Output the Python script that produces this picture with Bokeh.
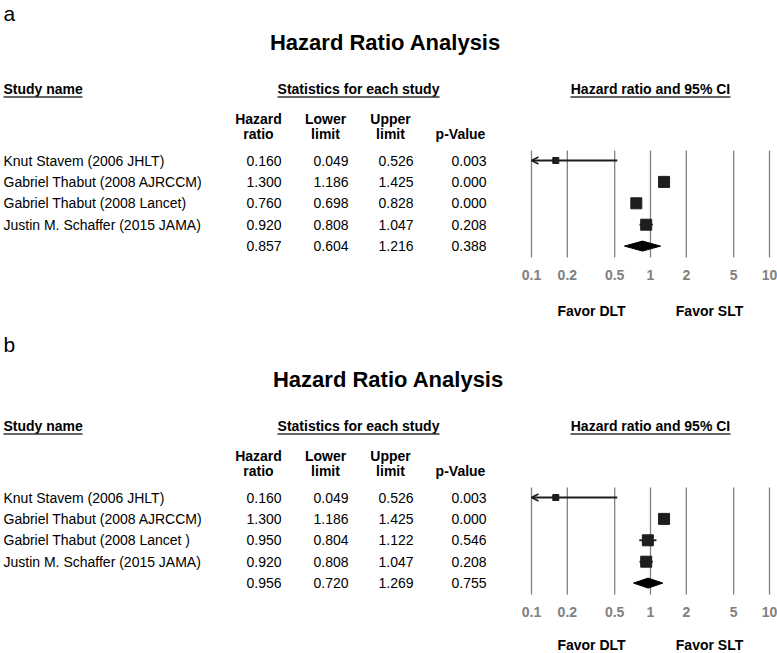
import math
from bokeh.plotting import figure
from bokeh.models import Range1d, LogScale, ColumnDataSource, Arrow, OpenHead
from bokeh.core.properties import value
from bokeh.embed import file_html
from bokeh.resources import INLINE

# ---------------- data ----------------
panel_letters = ["a", "b"]
chart_title = "Hazard Ratio Analysis"

studies_a = ["Knut Stavem (2006 JHLT)", "Gabriel Thabut (2008 AJRCCM)",
             "Gabriel Thabut (2008 Lancet)", "Justin M. Schaffer (2015 JAMA)"]
hr_a = [0.160, 1.300, 0.760, 0.920]
lower_a = [0.049, 1.186, 0.698, 0.808]
upper_a = [0.526, 1.425, 0.828, 1.047]
pval_a = [0.003, 0.000, 0.000, 0.208]
pooled_a = [0.857, 0.604, 1.216, 0.388]   # hr, lower, upper, p

studies_b = ["Knut Stavem (2006 JHLT)", "Gabriel Thabut (2008 AJRCCM)",
             "Gabriel Thabut (2008 Lancet )", "Justin M. Schaffer (2015 JAMA)"]
hr_b = [0.160, 1.300, 0.950, 0.920]
lower_b = [0.049, 1.186, 0.804, 0.808]
upper_b = [0.526, 1.425, 1.122, 1.047]
pval_b = [0.003, 0.000, 0.546, 0.208]
pooled_b = [0.956, 0.720, 1.269, 0.755]

tick_values = [0.1, 0.2, 0.5, 1, 2, 5, 10]
tick_labels = ["0.1", "0.2", "0.5", "1", "2", "5", "10"]

# ---------------- layout / style ----------------
W, H = 777, 653
FONT = value("Liberation Sans")
AX_MIN, AX_MAX = 0.1, 10.0
PX_MIN, PX_MAX = 531, 769
PPD = (PX_MAX - PX_MIN) / math.log10(AX_MAX / AX_MIN)
log_start = AX_MIN * 10 ** (-PX_MIN / PPD)
log_end = AX_MAX * 10 ** ((W - PX_MAX) / PPD)
TEXT_DY = -5   # baseline correction for rendered text

box_px = [6, 11, 11, 11]
panel_off = [0, 337]
letter_y = [18, 349]
favor_y = [315, 649]
title_x = [385, 388]

p = figure(width=W, height=H, x_range=Range1d(0, W), y_range=Range1d(H, 0),
           x_axis_type=None, y_axis_type=None, output_backend="svg",
           toolbar_location=None, min_border=0)
p.outline_line_color = None
p.grid.visible = False
p.background_fill_color = "white"
p.border_fill_color = "white"
p.extra_x_ranges = {"hr": Range1d(log_start, log_end)}
p.extra_x_scales = {"hr": LogScale()}
p.styles = {"position": "absolute", "left": "0px", "top": "0px"}


def txt(x, y, t, size="14px", bold=False, align="left", color="black", **kw):
    p.text(x=x, y=[v + TEXT_DY for v in y], text=t, text_font=FONT, text_font_size=size,
           text_font_style="bold" if bold else "normal", text_align=align,
           text_baseline="alphabetic", text_color=color, **kw)


panels = [
    (studies_a, hr_a, lower_a, upper_a, pval_a, pooled_a),
    (studies_b, hr_b, lower_b, upper_b, pval_b, pooled_b),
]

col_right = [281, 348, 413, 486]
ROW0, STEP = 160, 21.4

for k, (studies, hr, lo, hi, pv, pooled) in enumerate(panels):
    o = panel_off[k]
    # panel letter and title
    txt([3], [letter_y[k]], [panel_letters[k]], size="21px")
    txt([title_x[k]], [47 + o], [chart_title], size="22px", bold=True, align="center")
    # group headers with underline
    txt([3], [93 + o], ["Study name"], bold=True)
    txt([358], [93 + o], ["Statistics for each study"], bold=True, align="center")
    txt([650], [93 + o], ["Hazard ratio and 95% CI"], bold=True, align="center")
    p.segment(x0=[3, 277, 570], x1=[82, 439, 730], y0=[96.5 + o] * 3, y1=[96.5 + o] * 3,
              line_color="#333333", line_width=1.3)
    # column headers
    txt([258, 325, 390], [123 + o] * 3, ["Hazard", "Lower", "Upper"], bold=True, align="center")
    txt([258, 325, 390, 460], [138 + o] * 4, ["ratio", "limit", "limit", "p-Value"],
        bold=True, align="center")

    n = len(studies)
    ys = [ROW0 + STEP * i + o for i in range(n + 1)]
    base = [y + 5 for y in ys]
    txt([3] * n, base[:n], studies)
    cols = [hr + [pooled[0]], lo + [pooled[1]], hi + [pooled[2]], pv + [pooled[3]]]
    for c, vals in enumerate(cols):
        txt([col_right[c]] * (n + 1), base, ["%.3f" % v for v in vals], align="right")

    # forest grid lines and tick labels
    p.segment(x0=tick_values, x1=tick_values, y0=[150 + o] * len(tick_values),
              y1=[257 + o] * len(tick_values), x_range_name="hr",
              line_color="#808080", line_width=1.3)
    txt(tick_values, [279 + o] * len(tick_values), tick_labels, size="14px", bold=True,
        align="center", color="#808080", x_range_name="hr")
    txt([591, 709], [favor_y[k]] * 2, ["Favor DLT", "Favor SLT"], bold=True, align="center")

    # confidence intervals
    seg_x0, seg_x1, seg_y = [], [], []
    arr_src = dict(xs=[], xe=[], y=[])
    for i in range(n):
        if lo[i] < AX_MIN:
            arr_src["xs"].append(hi[i])
            arr_src["xe"].append(AX_MIN)
            arr_src["y"].append(ys[i])
        else:
            seg_x0.append(lo[i])
            seg_x1.append(hi[i])
            seg_y.append(ys[i])
    p.segment(x0=seg_x0, x1=seg_x1, y0=seg_y, y1=seg_y, x_range_name="hr",
              line_color="#1e1e1e", line_width=1.8)
    if arr_src["xs"]:
        p.add_layout(Arrow(source=ColumnDataSource(arr_src), x_start="xs", x_end="xe",
                           y_start="y", y_end="y", x_range_name="hr",
                           line_color="#1e1e1e", line_width=1.8,
                           end=OpenHead(size=7, line_color="#1e1e1e", line_width=1.5)))
    # boxes
    p.scatter(x=hr, y=ys[:n], marker="square", size=box_px, x_range_name="hr",
              fill_color="#1e1e1e", line_color="#1e1e1e")
    # pooled diamond
    yc = ys[n]
    p.patches(xs=[[pooled[1], pooled[0], pooled[2], pooled[0]]],
              ys=[[yc, yc - 5, yc, yc + 5]], x_range_name="hr",
              fill_color="black", line_color="black", line_width=1)

open("out.html", "w").write(file_html(p, INLINE))
